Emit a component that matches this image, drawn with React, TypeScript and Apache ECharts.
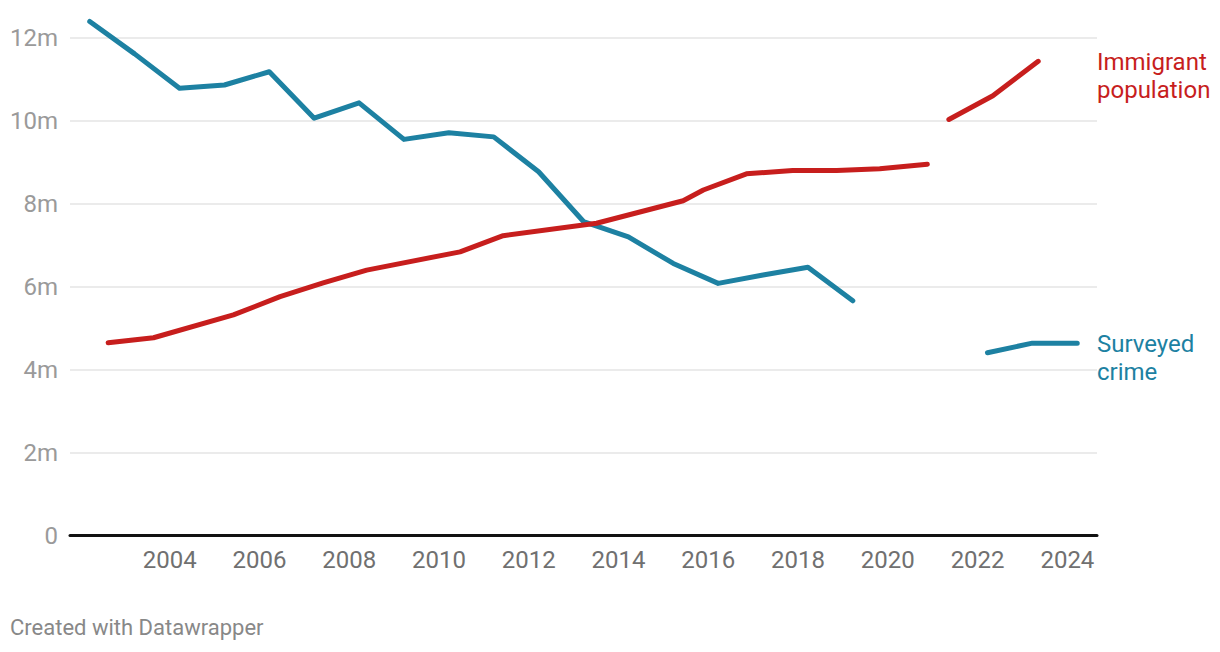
import React, { useEffect, useRef } from "react";
import * as echarts from "echarts";

// Surveyed crime (millions), years ending ~March; two segments (gap 2020-2021)
const crimeYearsA = [2002, 2003, 2004, 2005, 2006, 2007, 2008, 2009, 2010, 2011, 2012, 2013, 2014, 2015, 2016, 2017, 2018, 2019];
const crimeValuesA = [12.39, 11.61, 10.78, 10.86, 11.18, 10.06, 10.43, 9.55, 9.71, 9.61, 8.77, 7.57, 7.2, 6.56, 6.08, 6.28, 6.47, 5.66];
const crimeYearsB = [2022, 2023, 2024];
const crimeValuesB = [4.41, 4.64, 4.64];
const crimeOffset = 0.22;

// Immigrant population (millions), dated points; two segments
const popDatesA = [2002.63, 2003.64, 2005.42, 2006.46, 2007.42, 2008.39, 2010.47, 2011.43, 2013.51, 2015.44, 2015.89, 2016.85, 2017.88, 2018.86, 2019.82, 2020.88];
const popValuesA = [4.65, 4.77, 5.32, 5.76, 6.09, 6.4, 6.84, 7.23, 7.53, 8.07, 8.33, 8.72, 8.8, 8.8, 8.84, 8.95];
const popDatesB = [2021.36, 2022.34, 2023.35];
const popValuesB = [10.03, 10.6, 11.43];

const xTickLabels = [2004, 2006, 2008, 2010, 2012, 2014, 2016, 2018, 2020, 2022, 2024];
const yTicks = [0, 2, 4, 6, 8, 10, 12];

const BLUE = "#1d81a2";
const RED = "#c71e1d";
const FONT = "Roboto";

export default function App() {
  const ref = useRef<HTMLDivElement>(null);

  useEffect(() => {
    if (!ref.current) return;
    const chart = echarts.init(ref.current, null, { renderer: "svg" });

    const crimeA = crimeYearsA.map((y, i) => [y + crimeOffset, crimeValuesA[i]]);
    const crimeB = crimeYearsB.map((y, i) => [y + crimeOffset, crimeValuesB[i]]);
    const popA = popDatesA.map((d, i) => [d, popValuesA[i]]);
    const popB = popDatesB.map((d, i) => [d, popValuesB[i]]);

    const lineStyle = (color: string) => ({
      color,
      width: 5,
      cap: "round" as const,
      join: "round" as const,
    });
    const mkSeries = (name: string, data: number[][], color: string) => ({
      name,
      type: "line",
      data,
      showSymbol: false,
      symbol: "none",
      clip: false,
      lineStyle: lineStyle(color),
      itemStyle: { color },
      emphasis: { disabled: true },
    });

    chart.setOption({
      animation: false,
      backgroundColor: "#ffffff",
      textStyle: { fontFamily: FONT },
      grid: { left: 70, right: 123, top: 37.7, bottom: 116.3, containLabel: false },
      xAxis: {
        type: "value",
        min: 2001.78,
        max: 2024.66,
        splitLine: { show: false },
        axisTick: { show: false },
        axisLine: { show: true, onZero: false, lineStyle: { color: "#111111", width: 3 } },
        axisLabel: {
          customValues: xTickLabels,
          formatter: (v: number) => String(v),
          color: "#707070",
          fontSize: 24,
          fontFamily: FONT,
          margin: 12,
        },
      },
      yAxis: {
        type: "value",
        min: 0,
        max: 12,
        interval: 2,
        axisLine: { show: false },
        axisTick: { show: false },
        splitLine: { show: true, lineStyle: { color: "#e4e4e4", width: 1.5 } },
        axisLabel: {
          formatter: (v: number) => (yTicks.includes(v) ? (v === 0 ? "0" : v + "m") : ""),
          color: "#9a9a9a",
          fontSize: 24,
          fontFamily: FONT,
          margin: 12,
        },
      },
      series: [
        mkSeries("Surveyed crime", crimeA, BLUE),
        mkSeries("Surveyed crime ", crimeB, BLUE),
        mkSeries("Immigrant population", popA, RED),
        mkSeries("Immigrant population ", popB, RED),
      ],
      graphic: [
        {
          type: "text",
          left: 1097,
          top: 48,
          style: { text: "Immigrant\npopulation", fill: RED, fontSize: 24, fontFamily: FONT, lineHeight: 28 },
        },
        {
          type: "text",
          left: 1097,
          top: 330,
          style: { text: "Surveyed\ncrime", fill: BLUE, fontSize: 24, fontFamily: FONT, lineHeight: 28 },
        },
        {
          type: "text",
          left: 10,
          top: 614,
          style: { text: "Created with Datawrapper", fill: "#888888", fontSize: 22, fontFamily: FONT, lineHeight: 26 },
        },
      ],
    });

    return () => chart.dispose();
  }, []);

  return (
    <div
      ref={ref}
      style={{ position: "fixed", left: 0, top: 0, width: 1220, height: 652, background: "#fff" }}
    />
  );
}
